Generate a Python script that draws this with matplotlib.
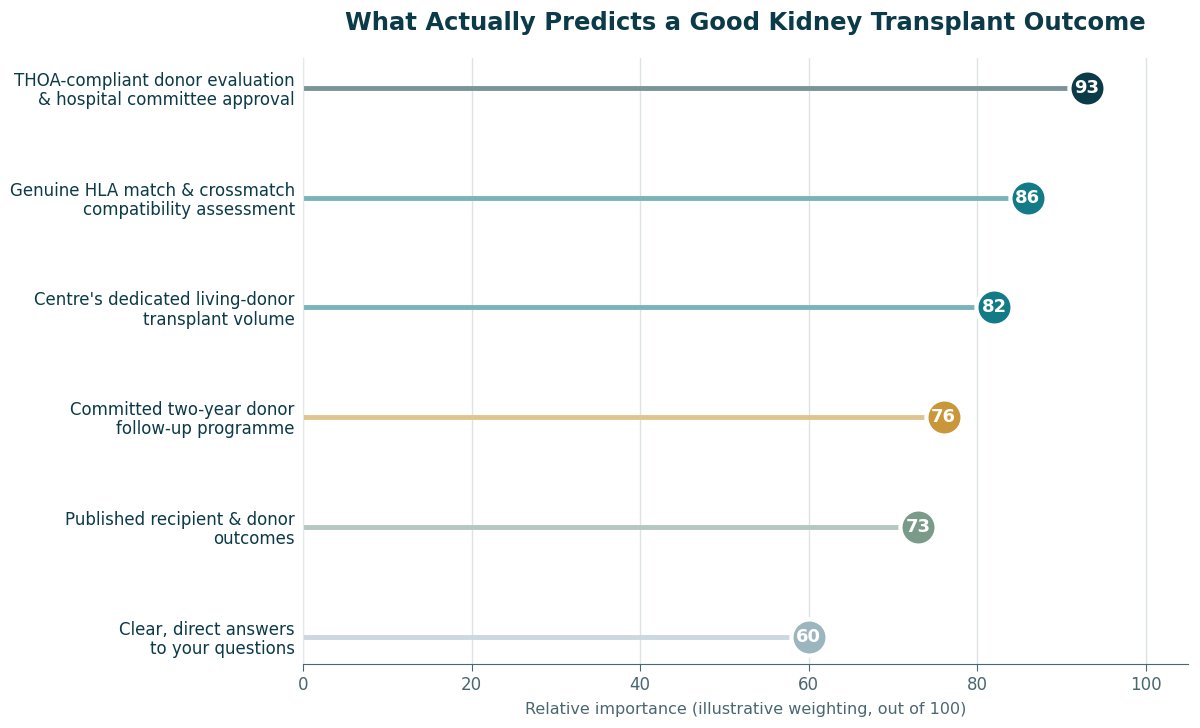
import matplotlib
matplotlib.use("Agg")
from matplotlib import pyplot as plt

plt.rcParams["font.family"] = ["DejaVu Sans"]

# Factors, from bottom to top of the chart
factors = [
    "Clear, direct answers\nto your questions",
    "Published recipient & donor\noutcomes",
    "Committed two-year donor\nfollow-up programme",
    "Centre's dedicated living-donor\ntransplant volume",
    "Genuine HLA match & crossmatch\ncompatibility assessment",
    "THOA-compliant donor evaluation\n& hospital committee approval",
]
scores = [60, 73, 76, 82, 86, 93]
dot_colors = ["#9db5bf", "#7a9a8a", "#c9963a", "#137a87", "#137a87", "#0b3a48"]
stem_colors = ["#cbd8dd", "#b5c7bf", "#e0c48f", "#7ab3ba", "#7ab3ba", "#7a9499"]

dark = "#0b3a48"
grey = "#4a6670"

fig, ax = plt.subplots(figsize=(12, 7.28), dpi=100)
fig.subplots_adjust(left=0.2525, right=0.99, top=0.92, bottom=0.088)

for i, (val, dc, sc) in enumerate(zip(scores, dot_colors, stem_colors)):
    ax.plot([0, val], [i, i], color=sc, lw=3.5, solid_capstyle="butt", zorder=2)
    ax.plot(val, i, "o", ms=26, color=dc, mec="white", mew=3, zorder=3)
    ax.text(val, i, f"{val}", ha="center", va="center", color="white",
            fontsize=13, fontweight="bold", zorder=4)

ax.set_yticks(range(len(factors)))
ax.set_yticklabels(factors, fontsize=12, color=dark, linespacing=1.1)
ax.set_ylim(-0.25, 5.27)
ax.set_xlim(0, 105)
ax.set_xticks([0, 20, 40, 60, 80, 100])
ax.tick_params(axis="x", labelsize=12, colors=grey, length=5)
ax.tick_params(axis="y", length=0, pad=6)

ax.grid(axis="x", color="#dde3e5", lw=1)
ax.set_axisbelow(True)
for s in ["top", "right"]:
    ax.spines[s].set_visible(False)
ax.spines["left"].set_color("#e3e8ea")
ax.spines["bottom"].set_color(grey)

ax.set_xlabel("Relative importance (illustrative weighting, out of 100)",
              fontsize=11.5, color=grey, labelpad=6)
ax.set_title("What Actually Predicts a Good Kidney Transplant Outcome",
             fontsize=17.5, fontweight="bold", color=dark, pad=20)

fig.savefig("out.png", dpi=100, facecolor="white")
